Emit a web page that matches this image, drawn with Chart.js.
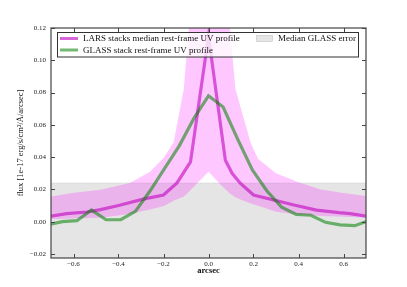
<!DOCTYPE html>
<html lang="en">
<head>
  <meta charset="UTF-8">
  <title>UV profile</title>
  <script src="https://cdn.jsdelivr.net/npm/chart.js"></script>
  <style>
    html, body { margin: 0; padding: 0; background: #fff; }
    #wrap { width: 407px; height: 287px; }
  </style>
</head>
<body>
  <div id="wrap"><canvas id="uvChart" width="407" height="287"></canvas></div>

  <script>
    // GLASS stack, sampled on the 0.065" grid
    const glassX = [-0.715, -0.65, -0.585, -0.52, -0.455, -0.39, -0.325, -0.26, -0.195, -0.13, -0.065, 0,
                    0.065, 0.13, 0.195, 0.26, 0.325, 0.39, 0.455, 0.52, 0.585, 0.65, 0.715];
    const glassFlux = [-0.002, 0.0, 0.0006, 0.0072, 0.0012, 0.0012, 0.0064, 0.019, 0.033, 0.047, 0.064, 0.078,
                       0.071, 0.051, 0.032, 0.019, 0.009, 0.0045, 0.004, -0.0004, -0.002, -0.0025, 0.0008];

    // LARS median profile
    const larsX = [-0.72, -0.63, -0.54, -0.48, -0.40, -0.29, -0.20, -0.14, -0.08, 0,
                   0.075, 0.105, 0.14, 0.20, 0.29, 0.38, 0.48, 0.58, 0.63, 0.72];
    const larsFlux = [0.0030, 0.0050, 0.0060, 0.0075, 0.0100, 0.0140, 0.0165, 0.024, 0.037, 0.115,
                      0.038, 0.030, 0.024, 0.0165, 0.0134, 0.0103, 0.0072, 0.0056, 0.0050, 0.0030];

    // LARS scatter band
    const bandX = [-0.72, -0.6, -0.48, -0.35, -0.26, -0.2, -0.155, -0.11, -0.087, -0.065, 0,
                   0.053, 0.095, 0.12, 0.187, 0.22, 0.3, 0.4, 0.5, 0.6, 0.72];
    const bandHigh = [0.0152, 0.018, 0.0198, 0.024, 0.031, 0.0395, 0.049, 0.082, 0.12, 0.15, 0.2,
                      0.16, 0.12, 0.082, 0.049, 0.039, 0.030, 0.0245, 0.020, 0.0178, 0.0155];
    const bandLow = [0.0015, 0.0019, 0.0025, 0.0048, 0.0075, 0.0095, 0.0130, 0.0155, 0.0185, 0.0217, 0.031,
                     0.023, 0.0175, 0.015, 0.0112, 0.0098, 0.0062, 0.0043, 0.0035, 0.0030, 0.0025];

    // median GLASS error level
    const errX = [-0.75, 0.75];
    const errLevel = [0.024, 0.024];

    const xTicks = [-0.6, -0.4, -0.2, 0.0, 0.2, 0.4, 0.6];
    const yTicks = [-0.02, 0.0, 0.02, 0.04, 0.06, 0.08, 0.10, 0.12];

    const legendLabels = ['LARS stacks median rest-frame UV profile', 'GLASS stack rest-frame UV profile', 'Median GLASS error'];

    const pts = (xs, ys) => xs.map((x, i) => ({ x: x, y: ys[i] }));

    const SERIF = '"Liberation Serif", "Times New Roman", serif';
    const LARS_COL = 'rgba(191,0,191,0.6)';
    const GLASS_COL = 'rgba(0,128,0,0.55)';

    // frame + inward ticks like matplotlib
    const framePlugin = {
      id: 'frame',
      afterDatasetsDraw(chart) {
        const { ctx, chartArea: a, scales } = chart;
        ctx.save();
        ctx.strokeStyle = '#444';
        ctx.lineWidth = 1;
        ctx.beginPath();
        xTicks.forEach(v => {
          const px = Math.round(scales.x.getPixelForValue(v)) + 0.5;
          ctx.moveTo(px, a.bottom); ctx.lineTo(px, a.bottom - 4);
          ctx.moveTo(px, a.top); ctx.lineTo(px, a.top + 4);
        });
        yTicks.forEach(v => {
          const py = Math.round(scales.y.getPixelForValue(v)) + 0.5;
          ctx.moveTo(a.left, py); ctx.lineTo(a.left + 4, py);
          ctx.moveTo(a.right, py); ctx.lineTo(a.right - 4, py);
        });
        ctx.stroke();
        ctx.lineWidth = 1.2;
        ctx.strokeRect(a.left, a.top, a.right - a.left, a.bottom - a.top);
        ctx.restore();
      },
      afterDraw(chart) {
        const ctx = chart.ctx;
        ctx.save();
        // legend box
        ctx.fillStyle = 'rgba(255,255,255,0.78)';
        ctx.fillRect(57.5, 32.5, 301, 24.5);
        ctx.strokeStyle = '#333';
        ctx.lineWidth = 1;
        ctx.strokeRect(57.5, 32.5, 301, 24.5);

        ctx.lineWidth = 3;
        ctx.strokeStyle = LARS_COL;
        ctx.beginPath(); ctx.moveTo(60, 38.5); ctx.lineTo(78, 38.5); ctx.stroke();
        ctx.strokeStyle = GLASS_COL;
        ctx.beginPath(); ctx.moveTo(60, 50); ctx.lineTo(78, 50); ctx.stroke();

        ctx.fillStyle = 'rgba(0,0,0,0.1)';
        ctx.fillRect(256.5, 35.5, 16, 6);
        ctx.strokeStyle = 'rgba(0,0,0,0.2)';
        ctx.lineWidth = 0.6;
        ctx.strokeRect(256.5, 35.5, 16, 6);

        ctx.fillStyle = '#111';
        ctx.font = '9px ' + SERIF;
        ctx.textBaseline = 'middle';
        ctx.fillText(legendLabels[0], 83, 39);
        ctx.fillText(legendLabels[1], 83, 50.5);
        ctx.fillText(legendLabels[2], 278, 39);
        ctx.restore();
      }
    };

    new Chart(document.getElementById('uvChart'), {
      type: 'line',
      data: {
        datasets: [
          { label: legendLabels[1], data: pts(glassX, glassFlux), borderColor: GLASS_COL, borderWidth: 3.2, order: 0 },
          { label: legendLabels[0], data: pts(larsX, larsFlux), borderColor: LARS_COL, borderWidth: 3.2, order: 1 },
          { label: 'band high', data: pts(bandX, bandHigh), borderWidth: 0, borderColor: 'rgba(0,0,0,0)',
            fill: '+1', backgroundColor: 'rgba(255,0,255,0.22)', order: 2 },
          { label: 'band low', data: pts(bandX, bandLow), borderWidth: 0, borderColor: 'rgba(0,0,0,0)', order: 3 },
          { label: legendLabels[2], data: pts(errX, errLevel), borderWidth: 0.6, borderColor: 'rgba(0,0,0,0.12)',
            fill: 'start', backgroundColor: 'rgba(0,0,0,0.1)', order: 4 }
        ]
      },
      options: {
        responsive: false,
        animation: false,
        layout: { padding: { left: 0, top: 28, right: 41, bottom: 0 } },
        elements: { point: { radius: 0 }, line: { tension: 0 } },
        plugins: { legend: { display: false }, tooltip: { enabled: false } },
        scales: {
          x: {
            type: 'linear', min: -0.7, max: 0.7,
            afterBuildTicks: s => { s.ticks = xTicks.map(v => ({ value: v })); },
            afterFit: s => { s.height = 29; },
            grid: { display: false, drawTicks: false },
            border: { display: false },
            ticks: {
              padding: 2, color: '#222', font: { family: SERIF, size: 7 },
              callback: v => (v < 0 ? '\u2212' : '') + Math.abs(v).toFixed(1)
            },
            title: { display: true, text: 'arcsec', color: '#111', font: { family: SERIF, size: 8.5, weight: 'bold' },
                     padding: { top: 0, bottom: 11 } }
          },
          y: {
            min: -0.0225, max: 0.12,
            afterBuildTicks: s => { s.ticks = yTicks.map(v => ({ value: v })); },
            afterFit: s => { s.width = 51; },
            grid: { display: false, drawTicks: false },
            border: { display: false },
            ticks: {
              padding: 5, color: '#222', font: { family: SERIF, size: 7 },
              callback: v => (v < 0 ? '\u2212' : '') + Math.abs(v).toFixed(2)
            },
            title: { display: true, text: 'flux [1e-17 erg/s/cm\u00b2/\u00c5/arcsec]', color: '#111',
                     font: { family: SERIF, size: 8.5 }, padding: { top: 16, bottom: 0 } }
          }
        }
      },
      plugins: [framePlugin]
    });
  </script>
</body>
</html>
